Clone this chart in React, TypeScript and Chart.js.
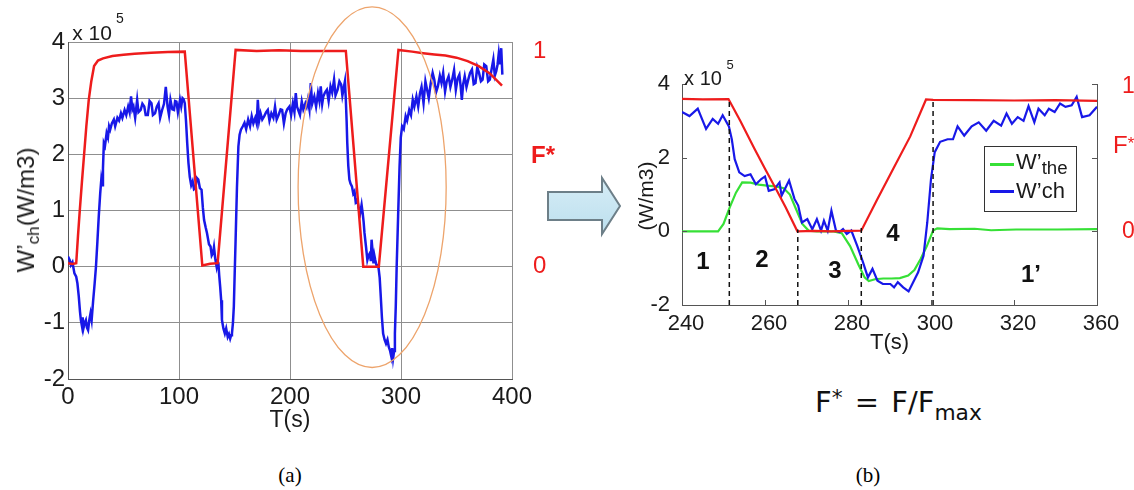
import React, { useEffect, useRef } from 'react';
import { Chart, registerables } from 'chart.js';

Chart.register(...registerables);

const FONT = "'Liberation Sans', Arial, sans-serif";
const RED = '#ee1c1c';
const BLUE = '#1818e8';
const GREEN = '#36e036';
const INK = '#1a1a1a';
const GRID = '#8f8f8f';
const AXIS = '#555555';

// ---------- (a) full run ----------
const aTicksX = [0, 100, 200, 300, 400];
const aTicksY = [-2, -1, 0, 1, 2, 3, 4];
const aFstarTicks = [0, 1];
const aFstarScale = 3.84; // F* = 1 drawn at this W'ch level

const aFstarT = [0, 4, 7.4, 9, 10.6, 12.5, 14.5, 16.5, 18.7, 21, 23.5, 27, 31.6, 40, 50, 60, 75, 90, 105.2, 121, 128, 134.8, 151, 170, 190, 210, 230, 250.3, 266, 280, 297.7, 310, 320, 330, 340, 350, 360, 370, 380, 391];
const aFstar = [0.016, 0.013, 0.016, 0.143, 0.26, 0.39, 0.52, 0.65, 0.773, 0.86, 0.93, 0.956, 0.966, 0.977, 0.982, 0.987, 0.992, 0.995, 0.997, 0.005, 0.013, 0.016, 1.005, 1.0, 1.003, 1.0, 1.0, 1.0, 0, 0, 1.005, 0.997, 0.99, 0.984, 0.979, 0.969, 0.953, 0.93, 0.896, 0.839];

const aWchT = [0, 1.5, 2.6, 4, 5.8, 7.4, 8.5, 9.7, 10.8, 11.6, 12.5, 13.2, 13.9, 15, 16.1, 17, 18.1, 19.2, 20.3, 21.3, 22.6, 24, 25.2, 26.5, 27.7, 29, 30, 30.8, 31.5, 32.3, 33.3, 34.8, 36, 37, 38, 39.5, 41.3, 42.5, 44.5, 46, 47.7, 49, 51, 52.5, 54.2, 55.5, 56.8, 58, 59, 60.5, 62.3, 63.5, 65.5, 67, 68.7, 70, 71.9, 73.5, 75.2, 76.5, 78.4, 80, 81.6, 83, 84.8, 86.5, 88.1, 89.7, 91, 92.3, 94, 95.5, 96.5, 97.7, 99, 100.9, 102, 103.2, 104.2, 105.2, 106.3, 107.4, 108.5, 109.7, 111, 112.3, 113.5, 114.8, 116, 117.4, 118.8, 120.3, 121.5, 122.6, 124, 125.2, 127, 128.4, 129.5, 130.6, 131.5, 132.6, 133.9, 134.8, 135.5, 136.2, 137.1, 138, 138.7, 140, 141.3, 142.5, 143.9, 145, 146.1, 147, 147.7, 148.6, 149.4, 150.2, 151, 152.2, 153.5, 154.6, 155.8, 157.5, 159, 160.5, 162.3, 164, 165.5, 167, 168.7, 170, 171, 172.2, 173.5, 175, 176.8, 178.5, 180, 181.5, 183.2, 185, 186.5, 188, 189.7, 191.5, 192.9, 194.5, 196.1, 197.5, 199.4, 201, 202.6, 204, 205.2, 206.3, 207.4, 209, 210.6, 212, 213.9, 215, 216.1, 217.5, 218.7, 220, 221.9, 223.5, 225.2, 226.5, 227.7, 229, 230, 231.5, 233.2, 234.8, 236.5, 238, 239.7, 241, 242.9, 244.5, 246.1, 247.2, 248.4, 249.5, 250.3, 251, 251.6, 252.5, 253.5, 254.5, 255.8, 257, 258.1, 259.2, 260.6, 261.8, 263.2, 264.5, 265.5, 266.3, 267.1, 268.5, 269.7, 270.8, 271.9, 272.8, 273.5, 274.3, 275.2, 276, 276.8, 277.6, 278.4, 279.2, 280, 280.8, 281.6, 282.8, 283.9, 285.2, 286.5, 287.8, 289, 290.2, 291.3, 292.1, 292.9, 293.8, 294.5, 295.3, 296.1, 297.4, 298.7, 299.8, 301, 302.5, 304.2, 305.5, 307.4, 309, 310.6, 312, 313.9, 315.5, 317.1, 318.5, 320.3, 322, 323.5, 325, 326.8, 328.5, 330, 331.5, 333.2, 335, 336.5, 338, 339.7, 341.2, 342.9, 344.5, 346.1, 347.8, 349.4, 351, 352.6, 353.8, 354.8, 356, 357.4, 359, 360.6, 362.2, 363.9, 365.5, 367.1, 368.7, 370.3, 372, 373.5, 375, 376.8, 378.5, 380, 381.5, 383.2, 384.5, 385.8, 387, 388.1, 389.3, 390.3, 391.3];
const aWch = [0.18, 0.12, 0.03, 0.08, -0.12, -0.18, -0.3, -0.53, -0.8, -0.95, -1.05, -0.9, -1.1, -1.0, -0.95, -1.08, -1.13, -0.95, -0.83, -0.95, -0.62, -0.3, 0.0, 0.45, 0.89, 1.3, 1.55, 1.45, 1.75, 2.2, 2.15, 2.38, 2.3, 2.5, 2.44, 2.55, 2.62, 2.5, 2.65, 2.6, 2.73, 2.65, 2.79, 2.7, 2.85, 2.75, 3.03, 2.8, 2.85, 2.65, 2.97, 2.75, 2.79, 2.9, 2.85, 2.7, 2.7, 2.95, 2.91, 2.7, 2.73, 2.85, 2.91, 2.65, 2.79, 2.9, 3.2, 2.85, 2.7, 2.97, 2.8, 2.79, 2.95, 2.94, 2.75, 2.97, 2.85, 3.0, 2.98, 2.91, 2.6, 2.2, 1.85, 1.6, 1.45, 1.52, 1.38, 1.4, 1.58, 1.55, 1.4, 1.37, 1.05, 0.83, 0.7, 0.6, 0.4, 0.36, 0.2, 0.24, 0.35, 0.15, 0.0, 0.1, 0.06, -0.15, -0.36, -0.6, -0.95, -1.1, -1.19, -1.1, -1.25, -1.2, -1.28, -1.22, -1.19, -1.0, -0.71, -0.1, 0.48, 1.4, 2.14, 2.35, 2.44, 2.5, 2.56, 2.45, 2.62, 2.5, 2.68, 2.55, 2.65, 2.55, 2.97, 2.6, 2.73, 2.62, 2.68, 2.75, 2.79, 2.6, 2.73, 2.65, 2.85, 2.62, 2.7, 2.8, 2.79, 2.55, 2.73, 2.8, 2.85, 2.7, 2.91, 2.75, 3.09, 2.85, 2.79, 2.7, 2.94, 2.8, 2.91, 2.85, 2.97, 2.8, 3.27, 2.9, 3.03, 2.85, 3.09, 2.95, 3.21, 2.9, 3.03, 3.1, 3.15, 2.95, 3.21, 3.1, 3.33, 3.05, 3.15, 3.3, 3.24, 3.05, 3.18, 3.3, 2.97, 2.6, 2.2, 1.8, 1.55, 1.48, 1.43, 1.3, 1.34, 1.15, 1.19, 1.05, 0.95, 1.1, 0.95, 0.8, 0.6, 0.35, 0.12, 0.2, 0.24, 0.1, 0.48, 0.3, 0.06, 0.2, 0.12, 0.05, 0.0, 0.05, -0.06, -0.2, -0.47, -0.9, -1.19, -1.3, -1.37, -1.3, -1.43, -1.5, -1.6, -1.45, -1.63, -1.5, -1.19, -0.7, 0.0, 0.9, 1.78, 2.3, 2.5, 2.45, 2.68, 2.6, 2.79, 2.7, 2.97, 2.85, 3.03, 2.85, 3.09, 3.2, 2.91, 3.3, 3.15, 3.0, 3.27, 3.45, 3.33, 3.1, 3.21, 3.4, 3.27, 3.45, 3.12, 3.3, 3.39, 3.2, 3.33, 3.5, 3.15, 3.35, 3.42, 3.2, 2.97, 3.25, 3.39, 3.2, 3.33, 3.45, 3.51, 3.25, 3.27, 3.55, 3.45, 3.3, 3.33, 3.6, 3.57, 3.3, 3.33, 3.5, 3.69, 3.4, 3.48, 3.6, 3.8, 3.6, 3.89, 3.42];

// highlighted window (ellipse), in data units
const ellipseT = 274;
const ellipseV = 1.415;
const ellipseRT = 66.7;
const ellipseRV = 3.21;

// ---------- (b) zoom on 240-340 s ----------
const bTickValues = [240, 260, 280, 300, 320, 340];
const bTickLabels = ['240', '260', '280', '300', '320', '360'];
const bTicksY = [-2, 0, 2, 4];
const bFstarScale = 3.58; // level of the F* = 1 plateau
const bFstarLabelScale = 3.94; // level of the "1" label on the right
const bFstarTicks = [0, 1];

const bFstarT = [240, 245, 251.2, 254, 257.4, 260, 263, 265, 267.8, 272, 276, 280, 283.2, 287, 291, 295, 298.8, 300.5, 310, 320, 330, 340];
const bFstar = [1.005, 1.0, 1.003, 0.84, 0.63, 0.475, 0.3, 0.18, 0.0, 0.003, 0.0, 0.003, 0.005, 0.24, 0.48, 0.72, 1.0, 0.997, 0.995, 0.992, 0.995, 0.99];

const bTheT = [240, 248.7, 250, 251.5, 253, 254.5, 256.5, 258.5, 260.5, 262.5, 264.5, 266, 267.5, 269, 270.5, 272.5, 276.5, 278.5, 280.5, 282.5, 284, 285, 286.5, 288.5, 290.5, 292.5, 294.5, 296, 297.5, 299, 300.5, 301.5, 304.5, 310.5, 314.5, 320.5, 330.5, 340];
const bThe = [0, 0, 0.2, 0.65, 1.05, 1.33, 1.32, 1.27, 1.24, 1.22, 1.17, 1.0, 0.6, 0.2, 0.02, 0, 0, -0.05, -0.4, -0.9, -1.25, -1.35, -1.3, -1.28, -1.28, -1.27, -1.2, -1.05, -0.75, -0.4, 0.02, 0.08, 0.06, 0.07, 0.03, 0.05, 0.05, 0.06];

const bWchT = [240, 241.8, 243.8, 245.8, 247.4, 248.7, 249.8, 251.3, 252, 252.7, 253.8, 255.1, 256.5, 257.8, 259.1, 260, 260.9, 262.2, 263.5, 264, 265.8, 267.1, 268, 268.9, 270.2, 271.4, 272.5, 273.5, 274.2, 275.1, 276, 277.1, 277.9, 278.8, 279.7, 280.8, 282.2, 283.5, 284.8, 285.9, 287.1, 288.4, 290.2, 291.1, 292, 293.3, 294.6, 295.7, 296.9, 298.2, 299.1, 300, 300.9, 302.2, 304, 305.3, 306.4, 308, 309.8, 311.5, 313.3, 315.1, 316.9, 318.2, 319.5, 320.9, 322.3, 323.5, 324.9, 325.9, 327.4, 328.4, 329.8, 331.1, 332.4, 333.9, 335.1, 336.4, 338.2, 340];
const bWch = [3.24, 3.13, 3.33, 2.78, 3.05, 2.92, 3.15, 2.85, 2.5, 1.96, 1.6, 1.5, 1.55, 1.28, 1.42, 1.49, 1.1, 1.14, 1.33, 0.97, 1.38, 0.88, 0.7, 0.24, 0.33, 0.06, 0.33, 0.02, 0.29, 0.02, 0.56, 0.02, -0.02, 0.06, -0.07, 0.02, -0.39, -0.8, -1.25, -1.02, -1.34, -1.43, -1.43, -1.52, -1.38, -1.52, -1.63, -1.38, -1.11, -0.66, 0.24, 1.42, 2.15, 2.43, 2.5, 2.5, 2.85, 2.6, 2.85, 2.96, 2.73, 3.0, 2.87, 3.2, 2.92, 3.1, 3.0, 3.4, 2.96, 3.33, 3.15, 3.33, 3.24, 3.47, 3.38, 3.42, 3.65, 3.1, 3.15, 3.38];

const bDashT = [251.4, 267.9, 283.2, 300.5];
const bDashTop = [3.6, 0.05, 0.1, 3.58];

function zip(ts: number[], vs: number[]) {
  return ts.map((t, i) => ({ x: t, y: vs[i] }));
}

const ellipsePlugin = {
  id: 'focusEllipse',
  afterDatasetsDraw(chart: any) {
    const { x, y } = chart.scales;
    const ctx = chart.ctx;
    const cx = x.getPixelForValue(ellipseT);
    const cy = y.getPixelForValue(ellipseV);
    const rx = Math.abs(x.getPixelForValue(ellipseT + ellipseRT) - cx);
    const ry = Math.abs(y.getPixelForValue(ellipseV + ellipseRV) - cy);
    ctx.save();
    ctx.beginPath();
    ctx.ellipse(cx, cy, rx, ry, 0, 0, Math.PI * 2);
    ctx.strokeStyle = '#eda46c';
    ctx.lineWidth = 1.3;
    ctx.stroke();
    ctx.restore();
  },
};

const innerTicksPlugin = {
  id: 'innerTicks',
  afterDraw(chart: any) {
    const { x, y } = chart.scales;
    const { left, right, bottom } = chart.chartArea;
    const ctx = chart.ctx;
    ctx.save();
    ctx.strokeStyle = AXIS;
    ctx.lineWidth = 1;
    ctx.beginPath();
    bTicksY.forEach((v) => {
      const py = Math.round(y.getPixelForValue(v)) + 0.5;
      ctx.moveTo(left, py);
      ctx.lineTo(left + 5, py);
      ctx.moveTo(right - 5, py);
      ctx.lineTo(right, py);
    });
    bTickValues.forEach((t) => {
      const px = Math.round(x.getPixelForValue(t)) + 0.5;
      ctx.moveTo(px, bottom);
      ctx.lineTo(px, bottom - 5);
    });
    ctx.stroke();
    ctx.restore();
  },
};

function ChartA() {
  const ref = useRef<HTMLCanvasElement>(null);
  useEffect(() => {
    const tickFont = { family: FONT, size: 24 };
    const chart = new Chart(ref.current as HTMLCanvasElement, {
      type: 'line',
      data: {
        datasets: [
          { data: zip(aFstarT, aFstar), yAxisID: 'f', borderColor: RED, borderWidth: 2.5, pointRadius: 0, tension: 0 },
          { data: zip(aWchT, aWch), yAxisID: 'y', borderColor: BLUE, borderWidth: 2.5, pointRadius: 0, tension: 0 },
        ],
      },
      options: {
        animation: false,
        responsive: false,
        events: [],
        layout: { padding: { top: 42, left: 0, right: 0, bottom: 0 } },
        plugins: { legend: { display: false }, tooltip: { enabled: false } },
        scales: {
          x: {
            type: 'linear', min: 0, max: 400,
            afterBuildTicks: (s: any) => { s.ticks = aTicksX.map((v) => ({ value: v })); },
            ticks: { font: tickFont, color: INK, padding: 4, maxRotation: 0, autoSkip: false },
            grid: { color: GRID, lineWidth: 1, drawTicks: false },
            border: { color: AXIS, width: 1 },
            title: { display: true, text: 'T(s)', font: { family: FONT, size: 23 }, color: INK, padding: { top: 0, bottom: 6 } },
            afterFit: (s: any) => { s.height = 61; },
          },
          y: {
            min: -2, max: 4,
            afterBuildTicks: (s: any) => { s.ticks = aTicksY.map((v) => ({ value: v })); },
            ticks: { font: tickFont, color: INK, padding: 3 },
            grid: { color: GRID, lineWidth: 1, drawTicks: false },
            border: { color: AXIS, width: 1 },
            afterFit: (s: any) => { s.width = 68; },
          },
          f: {
            position: 'right',
            min: -2 / aFstarScale, max: 4 / aFstarScale,
            afterBuildTicks: (s: any) => { s.ticks = aFstarTicks.map((v) => ({ value: v })); },
            ticks: { font: tickFont, color: RED, padding: 13 },
            grid: { display: false },
            border: { display: false },
            afterFit: (s: any) => { s.width = 68; },
          },
        },
      } as any,
      plugins: [ellipsePlugin],
    });
    return () => chart.destroy();
  }, []);
  return <canvas ref={ref} width={580} height={440} style={{ position: 'absolute', left: 0, top: 0, width: 580, height: 440 }} />;
}

function ChartB() {
  const ref = useRef<HTMLCanvasElement>(null);
  useEffect(() => {
    const tickFont = { family: FONT, size: 22 };
    const dashSets = bDashT.map((t, i) => ({
      data: [{ x: t, y: -2 }, { x: t, y: bDashTop[i] }],
      yAxisID: 'y', borderColor: '#111', borderWidth: 1.5, borderDash: [5, 4], pointRadius: 0, tension: 0,
    }));
    const chart = new Chart(ref.current as HTMLCanvasElement, {
      type: 'line',
      data: {
        datasets: [
          ...dashSets,
          { data: zip(bFstarT, bFstar), yAxisID: 'f', borderColor: RED, borderWidth: 2.2, pointRadius: 0, tension: 0 },
          { data: zip(bWchT, bWch), yAxisID: 'y', borderColor: BLUE, borderWidth: 2.2, pointRadius: 0, tension: 0 },
          { data: zip(bTheT, bThe), yAxisID: 'y', borderColor: GREEN, borderWidth: 2.2, pointRadius: 0, tension: 0 },
        ],
      },
      options: {
        animation: false,
        responsive: false,
        events: [],
        layout: { padding: { top: 44, left: 0, right: 0, bottom: 0 } },
        plugins: { legend: { display: false }, tooltip: { enabled: false } },
        scales: {
          x: {
            type: 'linear', min: 240, max: 340,
            afterBuildTicks: (s: any) => { s.ticks = bTickValues.map((v) => ({ value: v })); },
            ticks: {
              font: tickFont, color: INK, padding: -2, labelOffset: 4, maxRotation: 0, autoSkip: false,
              callback: (_v: any, i: number) => bTickLabels[i],
            },
            grid: { display: false },
            border: { color: AXIS, width: 1 },
            title: { display: true, text: 'T(s)', font: { family: FONT, size: 22 }, color: INK, padding: { top: 0, bottom: 2 } },
            afterFit: (s: any) => { s.height = 53; },
          },
          y: {
            min: -2, max: 4,
            afterBuildTicks: (s: any) => { s.ticks = bTicksY.map((v) => ({ value: v })); },
            ticks: { font: tickFont, color: INK, padding: 4 },
            grid: { display: false },
            border: { color: AXIS, width: 1 },
            afterFit: (s: any) => { s.width = 82; },
          },
          fr: {
            position: 'right',
            min: -2 / bFstarLabelScale, max: 4 / bFstarLabelScale,
            afterBuildTicks: (s: any) => { s.ticks = bFstarTicks.map((v) => ({ value: v })); },
            ticks: { font: { family: FONT, size: 23 }, color: RED, padding: 17 },
            grid: { display: false },
            border: { color: AXIS, width: 1 },
            afterFit: (s: any) => { s.width = 37; },
          },
          f: { display: false, min: -2 / bFstarScale, max: 4 / bFstarScale },
        },
      } as any,
      plugins: [innerTicksPlugin],
    });
    return () => chart.destroy();
  }, []);
  return <canvas ref={ref} width={534} height={318} style={{ position: 'absolute', left: 600, top: 40, width: 534, height: 318 }} />;
}

const abs = (x: number, y: number, extra: React.CSSProperties = {}): React.CSSProperties => ({
  position: 'absolute', left: x, top: y, transform: 'translate(-50%, -50%)', lineHeight: 1, whiteSpace: 'nowrap', fontFamily: FONT, ...extra,
});

export default function App() {
  return (
    <div style={{ position: 'absolute', left: 0, top: 0, width: 1134, height: 490, background: '#fff', overflow: 'hidden' }}>
      <ChartA />
      <ChartB />

      {/* (a) annotations */}
      <div style={abs(92, 32, { fontSize: 21, color: INK })}>x 10</div>
      <div style={abs(120, 18, { fontSize: 14, color: INK })}>5</div>
      <div style={abs(26, 210, { fontSize: 24, color: INK, transform: 'translate(-50%, -50%) rotate(-90deg)' })}>
        W’<span style={{ fontSize: '0.72em', position: 'relative', top: '0.3em' }}>ch</span>(W/m3)
      </div>
      <div style={{ position: 'absolute', left: 531, top: 143, fontFamily: FONT, fontSize: 24, fontWeight: 'bold', color: RED, lineHeight: 1 }}>F*</div>

      {/* arrow */}
      <svg width={90} height={75} style={{ position: 'absolute', left: 540, top: 170 }}>
        <defs>
          <linearGradient id="arrowFill" x1="0" y1="0" x2="0" y2="1">
            <stop offset="0" stopColor="#d6edf6" />
            <stop offset="1" stopColor="#bcdfee" />
          </linearGradient>
        </defs>
        <polygon points="8,22 62,22 62,8 80,36 62,64 62,50 8,50" fill="url(#arrowFill)" stroke="#6d7f88" strokeWidth={2} strokeLinejoin="miter" />
      </svg>

      {/* (b) annotations */}
      <div style={abs(703, 78, { fontSize: 20, color: INK })}>x 10</div>
      <div style={abs(730, 64, { fontSize: 13, color: INK })}>5</div>
      <div style={abs(645, 196, { fontSize: 21, color: INK, transform: 'translate(-50%, -50%) rotate(-90deg)' })}>(W/m3)</div>
      <div style={{ position: 'absolute', left: 1113, top: 133, fontFamily: FONT, fontSize: 24, color: RED, lineHeight: 1 }}>
        F<span style={{ fontSize: '0.7em', position: 'relative', top: '-0.25em' }}>*</span>
      </div>

      <div style={abs(703, 261, { fontSize: 24, fontWeight: 'bold', color: '#111' })}>1</div>
      <div style={abs(762, 259, { fontSize: 24, fontWeight: 'bold', color: '#111' })}>2</div>
      <div style={abs(835, 270, { fontSize: 24, fontWeight: 'bold', color: '#111' })}>3</div>
      <div style={abs(893, 233, { fontSize: 24, fontWeight: 'bold', color: '#111' })}>4</div>
      <div style={abs(1031, 274, { fontSize: 24, fontWeight: 'bold', color: '#111' })}>1’</div>

      {/* legend */}
      <div style={{ position: 'absolute', left: 984, top: 146, width: 93, height: 66, border: '1.5px solid #333', background: '#fff', boxSizing: 'border-box' }}>
        <div style={{ position: 'absolute', left: 5, top: 16, width: 24, height: 2.5, background: GREEN }} />
        <div style={{ position: 'absolute', left: 31, top: 4, fontFamily: FONT, fontSize: 22, color: INK, lineHeight: 1, whiteSpace: 'nowrap' }}>
          W’<span style={{ fontSize: '0.85em', position: 'relative', top: '0.25em' }}>the</span>
        </div>
        <div style={{ position: 'absolute', left: 5, top: 43, width: 24, height: 2.5, background: BLUE }} />
        <div style={{ position: 'absolute', left: 31, top: 33, fontFamily: FONT, fontSize: 22, color: INK, lineHeight: 1, whiteSpace: 'nowrap' }}>W’ch</div>
      </div>

      {/* formula */}
      <div style={{ position: 'absolute', left: 815, top: 388, fontFamily: "'DejaVu Sans', Verdana, sans-serif", fontSize: 29, color: '#111', lineHeight: 1, whiteSpace: 'nowrap', wordSpacing: 3 }}>
        F<span style={{ fontSize: '0.75em', position: 'relative', top: '-0.3em' }}>*</span> = F/F<span style={{ fontSize: '0.75em', position: 'relative', top: '0.35em' }}>max</span>
      </div>

      {/* panel labels */}
      <div style={abs(290, 475, { fontFamily: "'Liberation Serif', 'Times New Roman', serif", fontSize: 21, color: '#000' })}>(a)</div>
      <div style={abs(868, 475, { fontFamily: "'Liberation Serif', 'Times New Roman', serif", fontSize: 21, color: '#000' })}>(b)</div>
    </div>
  );
}
